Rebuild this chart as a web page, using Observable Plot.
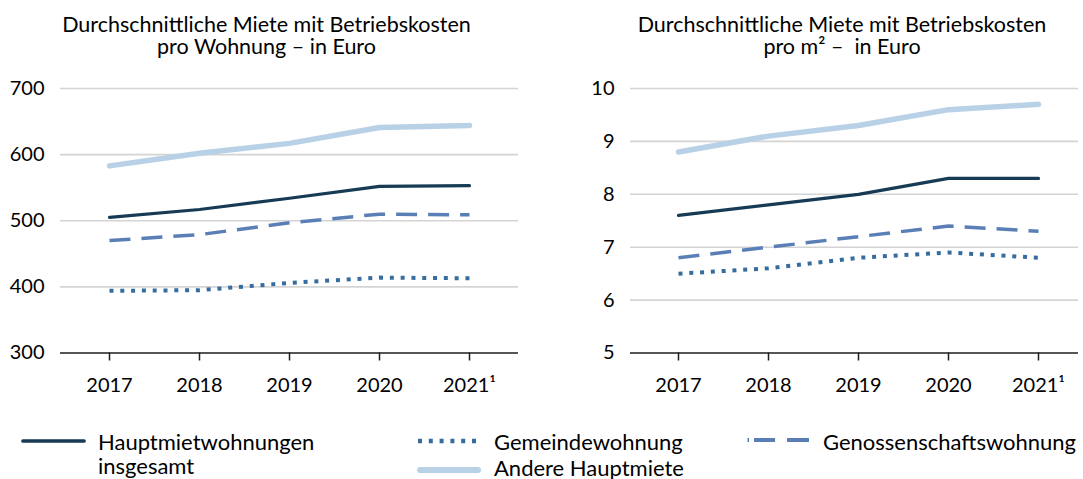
<!DOCTYPE html>
<html>
<head>
<meta charset="utf-8">
<script src="https://cdn.jsdelivr.net/npm/d3@7"></script>
<script src="https://cdn.jsdelivr.net/npm/@observablehq/plot@0.6"></script>
<style>
  html, body { margin: 0; padding: 0; background: #fff; }
  #wrap { position: relative; width: 1083px; height: 479px; font-family: Lato, sans-serif; color: #000; overflow: hidden; }
  .title { position: absolute; white-space: nowrap; text-align: center; font-size: 21.5px; line-height: 22px; transform: translateX(-50%); }
  .plot { position: absolute; top: 0; }
</style>
</head>
<body>
<div id="wrap">
  <div class="title" style="left:266.5px; top:12.5px;">Durchschnittliche Miete mit Betriebskosten<br>pro Wohnung – in Euro</div>
  <div class="title" style="left:842px; top:12.5px;">Durchschnittliche Miete mit Betriebskosten<br>pro m² –&nbsp; in Euro</div>
  <div class="plot" id="left" style="left:0px;"></div>
  <div class="plot" id="right" style="left:541px;"></div>
</div>
<script>
// ---- data ----
const years = ["2017", "2018", "2019", "2020", "2021"];
const yearLabels = ["2017", "2018", "2019", "2020", "2021¹"];
const seriesNames = ["Hauptmietwohnungen insgesamt", "Gemeindewohnung", "Genossenschaftswohnung", "Andere Hauptmiete"];

// pro Wohnung – in Euro
const wohnungHaupt = [505, 517, 534, 552, 553];
const wohnungGemeinde = [394, 395, 406, 414, 413];
const wohnungGenossen = [470, 479, 497, 510, 509];
const wohnungAndere = [583, 602, 617, 641, 644];

// pro m² – in Euro
const qmHaupt = [7.6, 7.8, 8.0, 8.3, 8.3];
const qmGemeinde = [6.5, 6.6, 6.8, 6.9, 6.8];
const qmGenossen = [6.8, 7.0, 7.2, 7.4, 7.3];
const qmAndere = [8.8, 9.1, 9.3, 9.6, 9.7];

const leftTicks = [300, 400, 500, 600, 700];
const rightTicks = [5, 6, 7, 8, 9, 10];

// ---- styles ----
const styles = {
  "Hauptmietwohnungen insgesamt": {stroke: "#173b55", strokeWidth: 3.2, dash: null, cap: "round"},
  "Gemeindewohnung": {stroke: "#366c9e", strokeWidth: 4, dash: "4 6.8", cap: "butt"},
  "Genossenschaftswohnung": {stroke: "#5a7fb7", strokeWidth: 3.5, dash: "21 11", cap: "butt"},
  "Andere Hauptmiete": {stroke: "#b9d1e6", strokeWidth: 5.5, dash: null, cap: "round"}
};
const drawOrder = ["Andere Hauptmiete", "Hauptmietwohnungen insgesamt", "Genossenschaftswohnung", "Gemeindewohnung"];

function toRows(arrs) {
  const rows = [];
  seriesNames.forEach((s, si) => years.forEach((y, i) => rows.push({series: s, year: y, value: arrs[si][i]})));
  return rows;
}

function makeChart({rows, ticks, domain, width, marginLeft, marginRight, xRange}) {
  const labelOf = Object.fromEntries(years.map((y, i) => [y, yearLabels[i]]));
  return Plot.plot({
    width, height: 400,
    marginTop: 88, marginBottom: 47.5, marginLeft, marginRight,
    style: {fontFamily: "Lato, sans-serif", fontSize: "20px", color: "#000", background: "transparent"},
    x: {type: "point", domain: years, range: xRange, padding: 0, label: null},
    y: {domain, ticks, label: null},
    marks: [
      Plot.ruleY(ticks.slice(1), {stroke: "#d4d4d4", strokeWidth: 1.6}),
      Plot.ruleY([domain[0]], {stroke: "#1e1e1e", strokeWidth: 1.5}),
      Plot.axisY({ticks, tickSize: 0, tickPadding: 16, fontSize: 20, label: null, tickFormat: d3.format("d")}),
      Plot.axisX({tickSize: 8, tickPadding: 17, stroke: "#1e1e1e", strokeWidth: 1.5, fontSize: 20, label: null, tickFormat: d => labelOf[d]}),
      ...drawOrder.map(s => Plot.line(rows.filter(r => r.series === s), {
        x: "year", y: "value",
        stroke: styles[s].stroke,
        strokeWidth: styles[s].strokeWidth,
        strokeDasharray: styles[s].dash,
        strokeLinecap: styles[s].cap,
        strokeLinejoin: "round"
      }))
    ]
  });
}

document.getElementById("left").append(makeChart({
  rows: toRows([wohnungHaupt, wohnungGemeinde, wohnungGenossen, wohnungAndere]),
  ticks: leftTicks, domain: [300, 700], width: 541, marginLeft: 60, marginRight: 23, xRange: [107, 470]
}));
document.getElementById("right").append(makeChart({
  rows: toRows([qmHaupt, qmGemeinde, qmGenossen, qmAndere]),
  ticks: rightTicks, domain: [5, 10], width: 542, marginLeft: 89, marginRight: 5, xRange: [136, 498]
}));

// ---- legend ----
const ns = "http://www.w3.org/2000/svg";
const leg = document.createElementNS(ns, "svg");
leg.setAttribute("width", 1083);
leg.setAttribute("height", 479);
leg.style.position = "absolute"; leg.style.left = "0"; leg.style.top = "0";
const legendItems = [
  {s: "Hauptmietwohnungen insgesamt", x1: 23, x2: 84, y: 441, tx: 98, lines: ["Hauptmietwohnungen", "insgesamt"], ty: [450, 474]},
  {s: "Gemeindewohnung", x1: 418, x2: 480, y: 441, tx: 494, lines: ["Gemeindewohnung"], ty: [450]},
  {s: "Genossenschaftswohnung", x1: 747.5, x2: 809, y: 440, tx: 823, lines: ["Genossenschaftswohnung"], ty: [450], dash: "1.5 5 21 12 22"},
  {s: "Andere Hauptmiete", x1: 420, x2: 478, y: 470, tx: 494, lines: ["Andere Hauptmiete"], ty: [476]}
];
legendItems.forEach(it => {
  const st = styles[it.s];
  const l = document.createElementNS(ns, "line");
  l.setAttribute("x1", it.x1); l.setAttribute("x2", it.x2);
  l.setAttribute("y1", it.y); l.setAttribute("y2", it.y);
  l.setAttribute("stroke", st.stroke);
  l.setAttribute("stroke-width", st.strokeWidth + 0.5);
  l.setAttribute("stroke-linecap", st.cap);
  const d = it.dash || st.dash;
  if (d) l.setAttribute("stroke-dasharray", d);
  leg.appendChild(l);
  it.lines.forEach((txt, i) => {
    const t = document.createElementNS(ns, "text");
    t.setAttribute("x", it.tx); t.setAttribute("y", it.ty[i]);
    t.setAttribute("font-family", "Lato, sans-serif");
    t.setAttribute("font-size", "22px");
    t.setAttribute("fill", "#000");
    t.textContent = txt;
    leg.appendChild(t);
  });
});
document.getElementById("wrap").appendChild(leg);
</script>
</body>
</html>
